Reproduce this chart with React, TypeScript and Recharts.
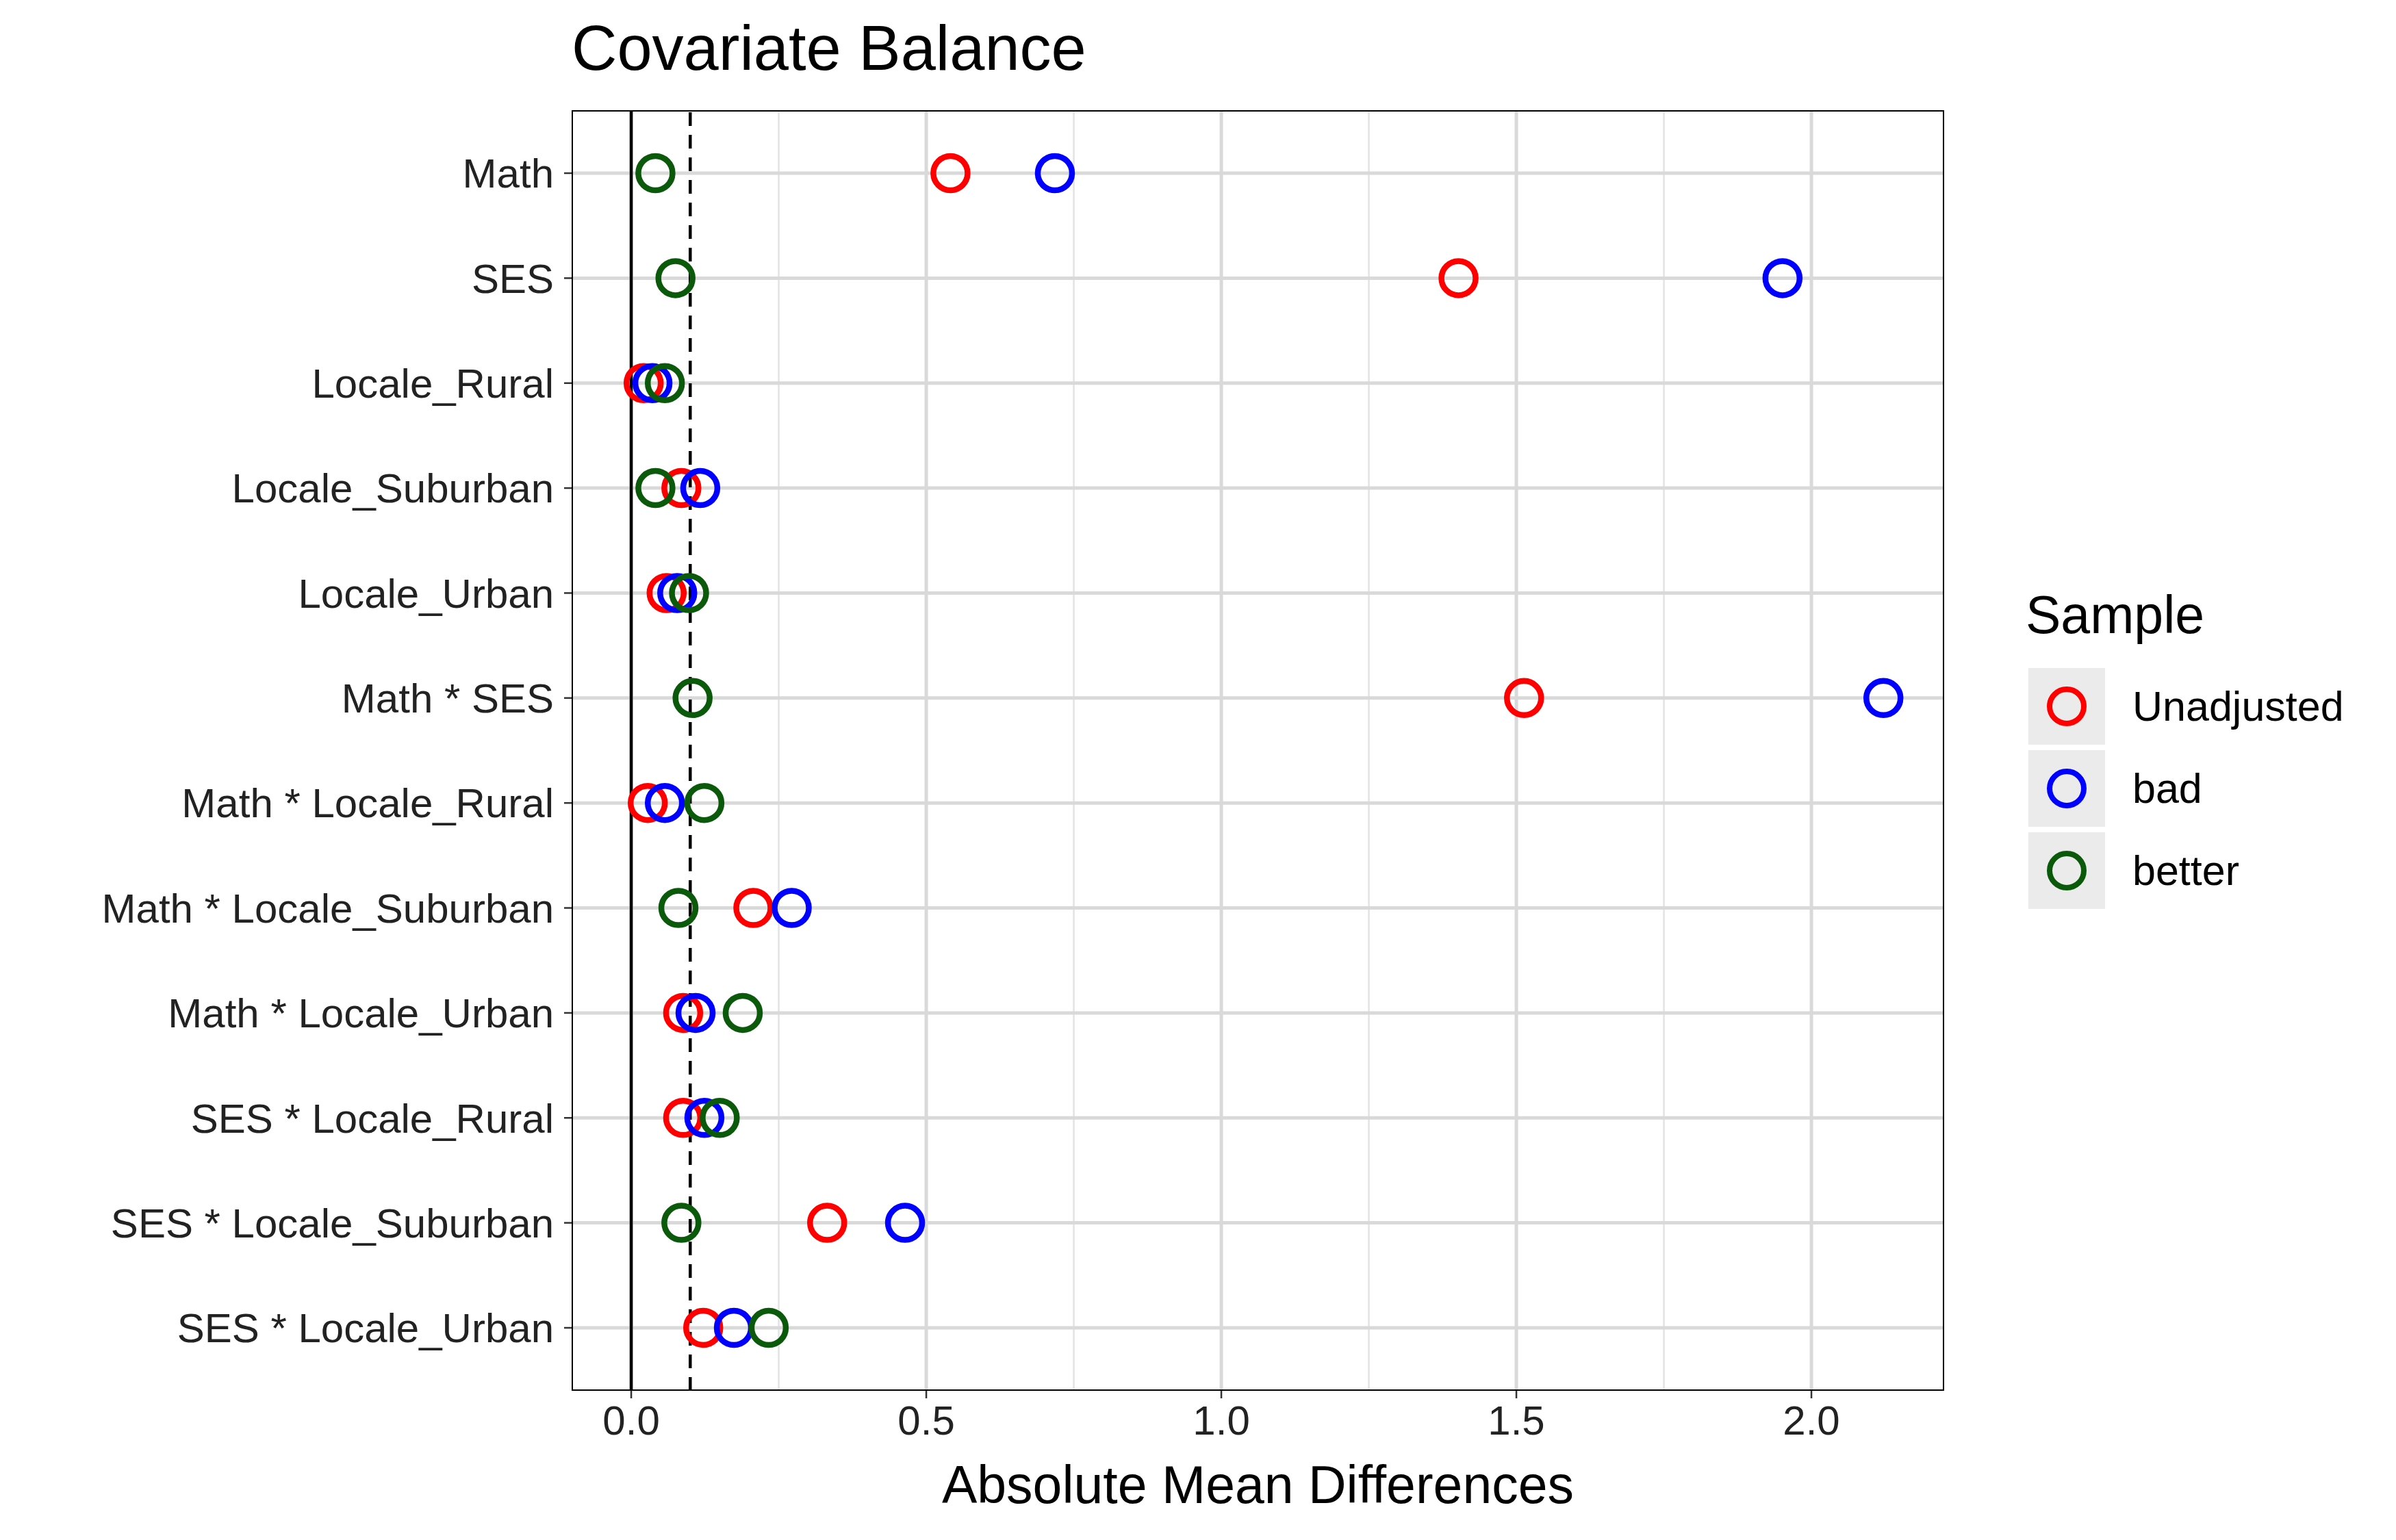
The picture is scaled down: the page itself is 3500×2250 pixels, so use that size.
import React from "react";
import { ComposedChart, Scatter, XAxis, YAxis, ReferenceLine } from "recharts";

const categories = ["Math","SES","Locale_Rural","Locale_Suburban","Locale_Urban","Math * SES","Math * Locale_Rural","Math * Locale_Suburban","Math * Locale_Urban","SES * Locale_Rural","SES * Locale_Suburban","SES * Locale_Urban"];
const unadjusted = [0.541,1.402,0.021,0.085,0.06,1.513,0.028,0.207,0.088,0.088,0.332,0.122];
const bad = [0.718,1.951,0.036,0.117,0.078,2.122,0.057,0.272,0.109,0.124,0.464,0.174];
const better = [0.041,0.075,0.057,0.041,0.098,0.104,0.124,0.080,0.189,0.150,0.085,0.233];
const xTicks = [0, 0.5, 1, 1.5, 2];
const minorTicks = [0.25, 0.75, 1.25, 1.75];
const seriesNames = ["Unadjusted", "bad", "better"];
const colors = ["#FF0000", "#0000FF", "#0B5A0B"];

const toData = (vals: number[]) => vals.map((v, i) => ({ x: v, y: i + 1 }));
const FONT = "'Liberation Sans', Arial, sans-serif";

const Ring = (color: string) => (p: any) => (
  <circle cx={p.cx} cy={p.cy} r={25} fill="none" stroke={color} strokeWidth={8.5} />
);

export default function App() {
  const yTicks = categories.map((_, i) => i + 1);
  return (
    <div style={{ position: "absolute", left: 0, top: 0, width: 3500, height: 2250, background: "#fff", fontFamily: FONT }}>
      <ComposedChart width={3500} height={2250} margin={{ top: 161, right: 660, bottom: 0, left: 0 }}>
        <XAxis type="number" dataKey="x" domain={[-0.101, 2.225]} ticks={xTicks} allowDataOverflow
          tickFormatter={(v: number) => v.toFixed(1)} height={218} tickSize={11} tickMargin={10}
          axisLine={false} tickLine={{ stroke: "#333", strokeWidth: 2.5 }}
          tick={{ fill: "#222", fontSize: 60, fontFamily: FONT }} />
        <YAxis type="number" dataKey="y" domain={[0.4, 12.6]} reversed ticks={yTicks} allowDataOverflow
          tickFormatter={(v: number) => categories[v - 1]} width={835} tickSize={11} tickMargin={15}
          axisLine={false} tickLine={{ stroke: "#333", strokeWidth: 2.5 }} interval={0}
          tick={{ fill: "#222", fontSize: 60, fontFamily: FONT }} />
        {minorTicks.map((t) => (
          <ReferenceLine key={"m" + t} x={t} stroke="#e3e3e3" strokeWidth={2.5} />
        ))}
        {xTicks.map((t) => (
          <ReferenceLine key={"M" + t} x={t} stroke="#d9d9d9" strokeWidth={5} />
        ))}
        {yTicks.map((t) => (
          <ReferenceLine key={"y" + t} y={t} stroke="#d9d9d9" strokeWidth={5} />
        ))}
        <ReferenceLine x={0} stroke="#000" strokeWidth={4.5} />
        <ReferenceLine x={0.1} stroke="#000" strokeWidth={4.5} strokeDasharray="20 13" />
        <Scatter data={toData(unadjusted)} shape={Ring(colors[0])} isAnimationActive={false} />
        <Scatter data={toData(bad)} shape={Ring(colors[1])} isAnimationActive={false} />
        <Scatter data={toData(better)} shape={Ring(colors[2])} isAnimationActive={false} />
      </ComposedChart>
      <div style={{ position: "absolute", left: 835, top: 161, width: 2005, height: 1871, border: "2.5px solid #000", boxSizing: "border-box", pointerEvents: "none" }} />
      <div style={{ position: "absolute", left: 835, top: 18, fontSize: 92, color: "#000" }}>Covariate Balance</div>
      <div style={{ position: "absolute", left: 835, width: 2005, top: 2125, textAlign: "center", fontSize: 77, color: "#000" }}>Absolute Mean Differences</div>
      <div style={{ position: "absolute", left: 2959, top: 854, fontSize: 77, color: "#000" }}>Sample</div>
      {seriesNames.map((n, i) => (
        <div key={n} style={{ position: "absolute", left: 2963, top: 976 + i * 120, height: 112, display: "flex", alignItems: "center" }}>
          <div style={{ width: 112, height: 112, background: "#ebebeb", display: "flex", alignItems: "center", justifyContent: "center" }}>
            <div style={{ width: 58, height: 58, borderRadius: "50%", border: `8.5px solid ${colors[i]}`, boxSizing: "border-box" }} />
          </div>
          <div style={{ marginLeft: 40, fontSize: 61, color: "#000" }}>{n}</div>
        </div>
      ))}
    </div>
  );
}
